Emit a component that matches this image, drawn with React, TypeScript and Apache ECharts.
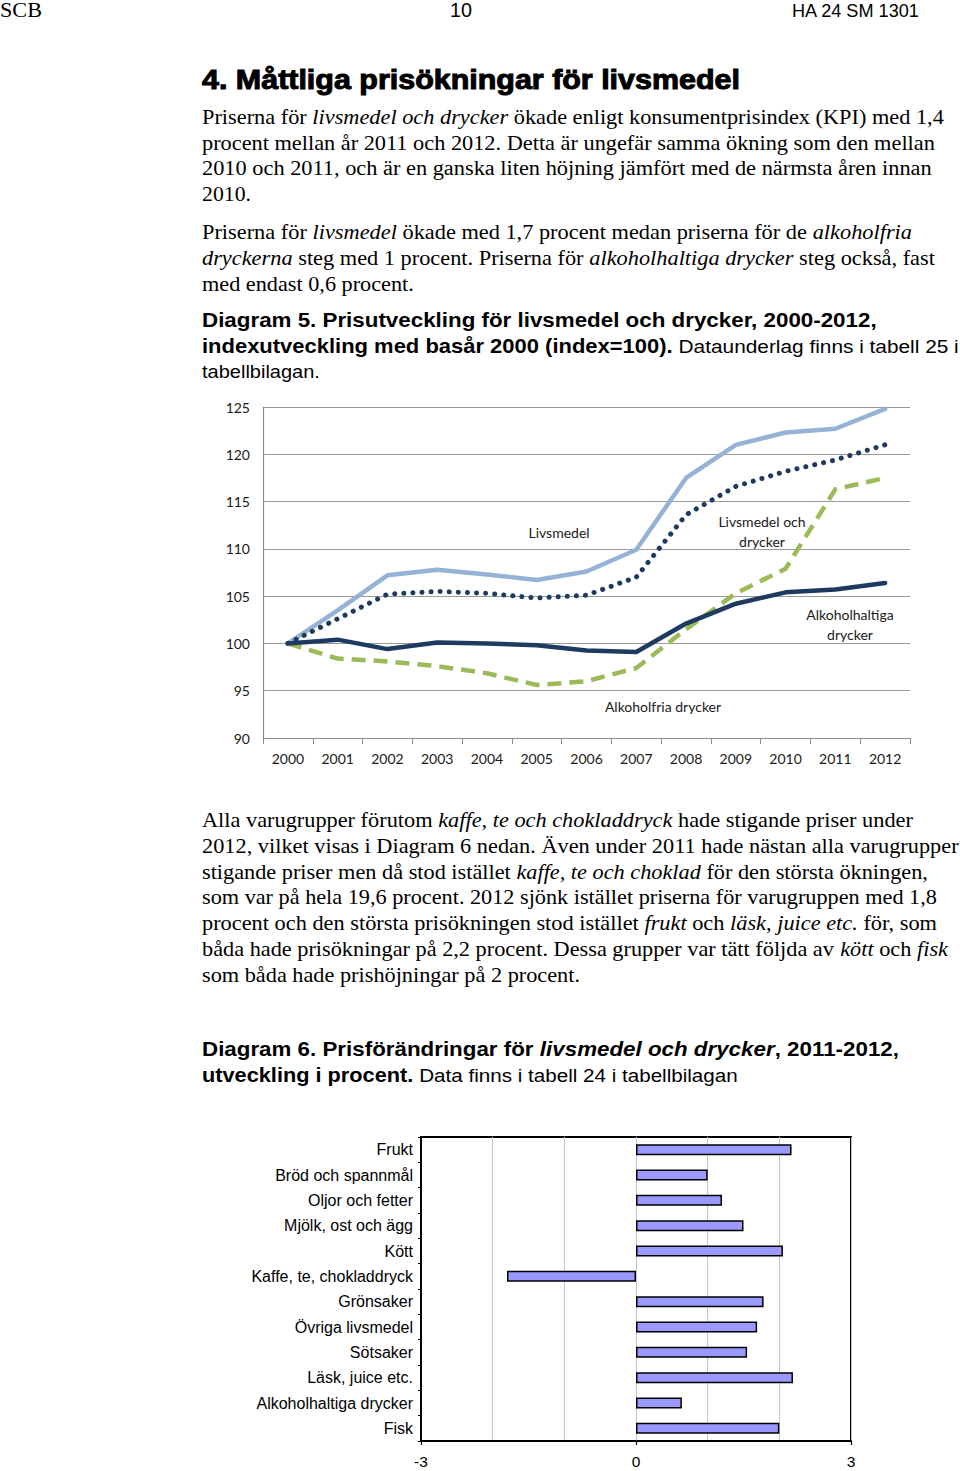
import React, { useEffect, useRef } from "react";
import * as echarts from "echarts";

// ---------- Data: Diagram 5 (index 2000 = 100) ----------
const years = ["2000", "2001", "2002", "2003", "2004", "2005", "2006", "2007", "2008", "2009", "2010", "2011", "2012"];
const livsmedel = [100, 103.5, 107.2, 107.8, 107.3, 106.7, 107.6, 109.9, 117.5, 121.0, 122.3, 122.7, 124.8];
const livsmedelOchDrycker = [100, 102.6, 105.2, 105.5, 105.3, 104.8, 105.1, 107.0, 113.6, 116.6, 118.2, 119.4, 121.0];
const alkoholfria = [100, 98.4, 98.1, 97.6, 96.85, 95.6, 96.0, 97.4, 101.5, 105.3, 107.9, 116.3, 117.5];
const alkoholhaltiga = [100, 100.4, 99.4, 100.1, 100.0, 99.8, 99.25, 99.1, 102.1, 104.2, 105.4, 105.7, 106.4];
const yTicks5 = { min: 90, max: 125, step: 5 };

// ---------- Data: Diagram 6 (change in percent 2011-2012) ----------
const categories6 = [
  "Frukt",
  "Bröd och spannmål",
  "Oljor och fetter",
  "Mjölk, ost och ägg",
  "Kött",
  "Kaffe, te, chokladdryck",
  "Grönsaker",
  "Övriga livsmedel",
  "Sötsaker",
  "Läsk, juice etc.",
  "Alkoholhaltiga drycker",
  "Fisk",
];
const change6 = [2.17, 1.0, 1.2, 1.5, 2.05, -1.8, 1.78, 1.69, 1.55, 2.19, 0.64, 2.0];
const xTicks6 = { min: -3, max: 3, step: 3 };

// ---------- Page text ----------
type Seg = [string, string];
type Line = { x: number; y: number; w: number; segs: Seg[] };

const TEXT_LINES: Line[] = [
  { x: 0, y: 10, w: 42, segs: [["hn", "SCB"]] },
  { x: 450, y: 10, w: 22, segs: [["hs", "10"]] },
  { x: 792, y: 11, w: 128, segs: [["hm", "HA 24 SM 1301"]] },
  { x: 202, y: 80, w: 538, segs: [["t", "4. Måttliga prisökningar för livsmedel"]] },
  { x: 202, y: 117, w: 742, segs: [["n", "Priserna för "], ["i", "livsmedel och drycker"], ["n", " ökade enligt konsumentprisindex (KPI) med 1,4"]] },
  { x: 202, y: 143, w: 733, segs: [["n", "procent mellan år 2011 och 2012. Detta är ungefär samma ökning som den mellan"]] },
  { x: 202, y: 168, w: 730, segs: [["n", "2010 och 2011, och är en ganska liten höjning jämfört med de närmsta åren innan"]] },
  { x: 202, y: 194, w: 49, segs: [["n", "2010."]] },
  { x: 202, y: 232, w: 710, segs: [["n", "Priserna för "], ["i", "livsmedel"], ["n", " ökade med 1,7 procent medan priserna för de "], ["i", "alkoholfria"]] },
  { x: 202, y: 258, w: 733, segs: [["i", "dryckerna"], ["n", " steg med 1 procent. Priserna för "], ["i", "alkoholhaltiga drycker"], ["n", " steg också, fast"]] },
  { x: 202, y: 284, w: 212, segs: [["n", "med endast 0,6 procent."]] },
  { x: 202, y: 320, w: 675, segs: [["b", "Diagram 5. Prisutveckling för livsmedel och drycker, 2000-2012,"]] },
  { x: 202, y: 346, w: 757, segs: [["b", "indexutveckling med basår 2000 (index=100)."], ["s", " Dataunderlag finns i tabell 25 i"]] },
  { x: 202, y: 372, w: 118, segs: [["s", "tabellbilagan."]] },
  { x: 202, y: 820, w: 711, segs: [["n", "Alla varugrupper förutom "], ["i", "kaffe, te och chokladdryck"], ["n", " hade stigande priser under"]] },
  { x: 202, y: 846, w: 757, segs: [["n", "2012, vilket visas i Diagram 6 nedan. Även under 2011 hade nästan alla varugrupper"]] },
  { x: 202, y: 872, w: 726, segs: [["n", "stigande priser men då stod istället "], ["i", "kaffe, te och choklad"], ["n", " för den största ökningen,"]] },
  { x: 202, y: 897, w: 736, segs: [["n", "som var på hela 19,6 procent. 2012 sjönk istället priserna för varugruppen med 1,8"]] },
  { x: 202, y: 923, w: 735, segs: [["n", "procent och den största prisökningen stod istället "], ["i", "frukt"], ["n", " och "], ["i", "läsk, juice etc."], ["n", " för, som"]] },
  { x: 202, y: 949, w: 746, segs: [["n", "båda hade prisökningar på 2,2 procent. Dessa grupper var tätt följda av "], ["i", "kött"], ["n", " och "], ["i", "fisk"]] },
  { x: 202, y: 975, w: 378, segs: [["n", "som båda hade prishöjningar på 2 procent."]] },
  { x: 202, y: 1049, w: 697, segs: [["b", "Diagram 6. Prisförändringar för "], ["bi", "livsmedel och drycker"], ["b", ", 2011-2012,"]] },
  { x: 202, y: 1075, w: 536, segs: [["b", "utveckling i procent."], ["s", " Data finns i tabell 24 i tabellbilagan"]] },
];

const SERIF = "Liberation Serif";
const SANS = "Liberation Sans";
const CAL = "Lato";

const FONTS: Record<string, { fontFamily: string; fontSize: number; fontStyle: string; fontWeight: string; stroke?: number }> = {
  n: { fontFamily: SERIF, fontSize: 20.5, fontStyle: "normal", fontWeight: "normal" },
  i: { fontFamily: SERIF, fontSize: 20.5, fontStyle: "italic", fontWeight: "normal" },
  b: { fontFamily: SANS, fontSize: 19.5, fontStyle: "normal", fontWeight: "bold" },
  bi: { fontFamily: SANS, fontSize: 19.5, fontStyle: "italic", fontWeight: "bold" },
  s: { fontFamily: SANS, fontSize: 18.5, fontStyle: "normal", fontWeight: "normal" },
  t: { fontFamily: SANS, fontSize: 27, fontStyle: "normal", fontWeight: "bold", stroke: 1 },
  hn: { fontFamily: SERIF, fontSize: 20, fontStyle: "normal", fontWeight: "normal" },
  hs: { fontFamily: SANS, fontSize: 20, fontStyle: "normal", fontWeight: "normal" },
  hm: { fontFamily: SANS, fontSize: 18, fontStyle: "normal", fontWeight: "normal" },
};

// Annotation labels inside Diagram 5
const ANNOTATIONS = [
  { x: 559, y: 532, text: "Livsmedel" },
  { x: 762, y: 531, text: "Livsmedel och\ndrycker" },
  { x: 850, y: 624, text: "Alkoholhaltiga\ndrycker" },
  { x: 663, y: 706, text: "Alkoholfria drycker" },
];

let measureCtx: CanvasRenderingContext2D | null = null;
function measure(key: string, text: string): number {
  try {
    if (!measureCtx) measureCtx = document.createElement("canvas").getContext("2d");
    if (!measureCtx) return 0;
    const f = FONTS[key];
    measureCtx.font = `${f.fontStyle} ${f.fontWeight} ${f.fontSize}px "${f.fontFamily}"`;
    return measureCtx.measureText(text).width;
  } catch (e) {
    return 0;
  }
}

function buildTextElements(): any[] {
  const els: any[] = [];
  for (const ln of TEXT_LINES) {
    const widths = ln.segs.map(([k, t]) => measure(k, t));
    const total = widths.reduce((a, b) => a + b, 0);
    let sx = total > 0 ? ln.w / total : 1;
    sx = Math.max(0.75, Math.min(1.3, sx));
    let cx = ln.x;
    ln.segs.forEach(([k, t], idx) => {
      const f = FONTS[k];
      const style: any = {
        text: t,
        fontFamily: f.fontFamily,
        fontSize: f.fontSize,
        fontStyle: f.fontStyle,
        fontWeight: f.fontWeight,
        fill: "#000",
        align: "left",
        verticalAlign: "middle",
      };
      if (f.stroke) {
        style.stroke = "#000";
        style.lineWidth = f.stroke;
      }
      els.push({ type: "text", x: cx, y: ln.y, scaleX: sx, silent: true, style });
      cx += widths[idx] * sx;
    });
  }
  return els;
}

function buildOption() {
  const textEls = buildTextElements();

  const annEls: any[] = ANNOTATIONS.map((a) => ({
    type: "text",
    x: a.x,
    y: a.y,
    silent: true,
    style: {
      text: a.text,
      fontFamily: CAL,
      fontSize: 14,
      lineHeight: 20,
      fill: "#1a1a1a",
      align: "center",
      verticalAlign: "middle",
    },
  }));

  const axisFont5 = { fontFamily: CAL, fontSize: 14, color: "#1a1a1a" };
  const axisFont6 = { fontFamily: SANS, fontSize: 16, color: "#000" };

  return {
    animation: false,
    backgroundColor: "#fff",
    grid: [
      { left: 263, right: 50, top: 407, bottom: 733, containLabel: false, outerBoundsMode: "none" },
      {
        left: 421,
        right: 109,
        top: 1137,
        bottom: 30,
        containLabel: false,
        outerBoundsMode: "none",
        show: true,
        borderColor: "#000",
        borderWidth: 2,
        backgroundColor: "transparent",
      },
    ],
    xAxis: [
      {
        gridIndex: 0,
        type: "category",
        data: years,
        boundaryGap: true,
        axisLine: { show: true, lineStyle: { color: "#8c8c8c", width: 1.2 } },
        axisTick: { show: true, length: 6, interval: 0, lineStyle: { color: "#8c8c8c" } },
        axisLabel: { ...axisFont5, margin: 13, interval: 0 },
        splitLine: { show: false },
      },
      {
        gridIndex: 1,
        type: "value",
        position: "bottom",
        min: xTicks6.min,
        max: xTicks6.max,
        interval: xTicks6.step,
        axisLine: { show: true, onZero: false, lineStyle: { color: "#000", width: 2 } },
        axisTick: { show: true, length: 4, lineStyle: { color: "#000", width: 1.2 } },
        axisLabel: { fontFamily: SANS, fontSize: 15.5, color: "#000", margin: 12 },
        splitLine: { show: true, lineStyle: { color: "#c4c4c4", width: 1 } },
        minorTick: { show: false, splitNumber: 3 },
        minorSplitLine: { show: true, lineStyle: { color: "#c4c4c4", width: 1 } },
      },
    ],
    yAxis: [
      {
        gridIndex: 0,
        type: "value",
        min: yTicks5.min,
        max: yTicks5.max,
        interval: yTicks5.step,
        axisLine: { show: true, lineStyle: { color: "#8c8c8c", width: 1.2 } },
        axisTick: { show: false },
        axisLabel: { ...axisFont5, margin: 13 },
        splitLine: { show: true, lineStyle: { color: "#9a9a9a", width: 1.2 } },
      },
      {
        gridIndex: 1,
        type: "category",
        data: categories6,
        inverse: true,
        position: "left",
        axisLine: { show: false },
        axisTick: { show: false },
        axisLabel: { ...axisFont6, margin: 8, interval: 0 },
        splitLine: { show: false },
      },
      {
        gridIndex: 1,
        type: "category",
        data: categories6,
        inverse: true,
        position: "left",
        axisLine: { show: true, onZero: true, lineStyle: { color: "#000", width: 2 } },
        axisTick: { show: true, length: 3, interval: 0, lineStyle: { color: "#000", width: 1 } },
        axisLabel: { show: false },
        splitLine: { show: false },
        z: 5,
      },
    ],
    series: [
      {
        name: "Livsmedel",
        type: "line",
        xAxisIndex: 0,
        yAxisIndex: 0,
        data: livsmedel,
        symbol: "none",
        lineStyle: { color: "#95b3d7", width: 4.5, cap: "round", join: "round" },
      },
      {
        name: "Livsmedel och drycker",
        type: "line",
        xAxisIndex: 0,
        yAxisIndex: 0,
        data: livsmedelOchDrycker,
        symbol: "none",
        lineStyle: { color: "#1f3a60", width: 5, type: [0.1, 9], cap: "round", join: "round" },
      },
      {
        name: "Alkoholfria drycker",
        type: "line",
        xAxisIndex: 0,
        yAxisIndex: 0,
        data: alkoholfria,
        symbol: "none",
        lineStyle: { color: "#9bbb59", width: 4.5, type: [14, 8], join: "round" },
      },
      {
        name: "Alkoholhaltiga drycker",
        type: "line",
        xAxisIndex: 0,
        yAxisIndex: 0,
        data: alkoholhaltiga,
        symbol: "none",
        lineStyle: { color: "#1f3a60", width: 4.5, cap: "round", join: "round" },
      },
      {
        name: "Förändring 2011-2012",
        type: "bar",
        xAxisIndex: 1,
        yAxisIndex: 1,
        data: change6,
        barWidth: 11,
        itemStyle: { color: "#9999ff", borderColor: "#000", borderWidth: 1.5 },
      },
    ],
    graphic: { elements: [...textEls, ...annEls] },
  };
}

export default function App() {
  const ref = useRef<HTMLDivElement>(null);
  useEffect(() => {
    if (!ref.current) return;
    const chart = echarts.init(ref.current, null, { renderer: "svg", width: 960, height: 1471 });
    chart.setOption(buildOption() as any);
    return () => {
      chart.dispose();
    };
  }, []);
  return (
    <div
      ref={ref}
      style={{ position: "absolute", left: 0, top: 0, width: 960, height: 1471, background: "#fff" }}
    />
  );
}
